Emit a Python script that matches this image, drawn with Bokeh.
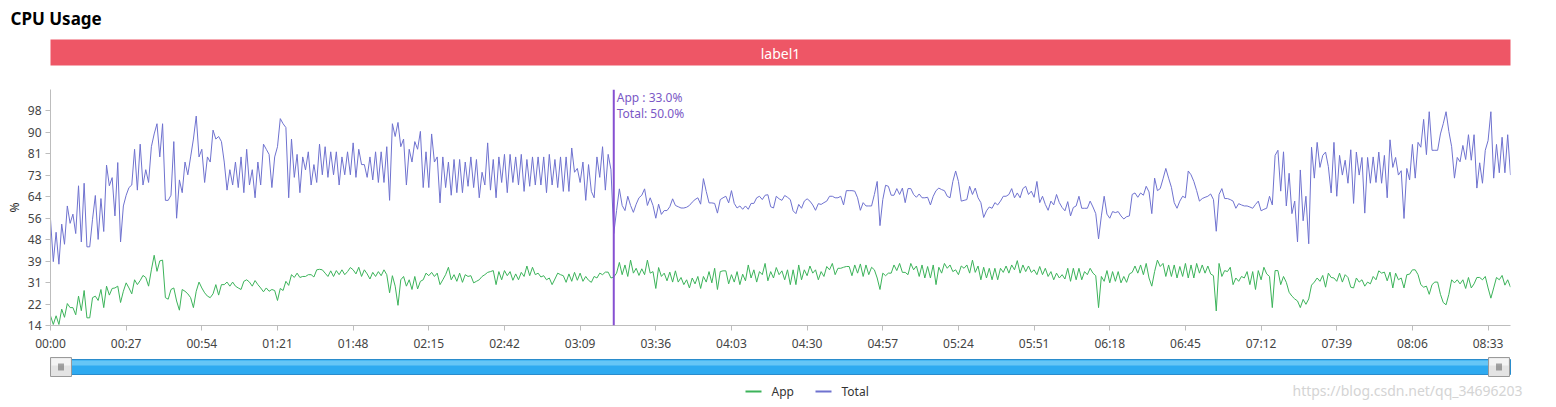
from bokeh.plotting import figure
from bokeh.models import Range1d, FixedTicker, Span, Label
from bokeh.embed import file_html
from bokeh.resources import INLINE
from bokeh.core.properties import value

# ---------------- data ----------------
chart_title = "CPU Usage"
banner_text = "label1"
series_names = ["App", "Total"]
unit_label = "%"
watermark = "https://blog.csdn.net/qq_34696203"

x_tick_seconds = [0, 27, 54, 81, 108, 135, 162, 189, 216, 243, 270, 297, 324,
                  351, 378, 405, 432, 459, 486, 513]
x_tick_labels = ["00:00", "00:27", "00:54", "01:21", "01:48", "02:15", "02:42",
                 "03:09", "03:36", "04:03", "04:30", "04:57", "05:24", "05:51",
                 "06:18", "06:45", "07:12", "07:39", "08:06", "08:33"]
y_tick_values = [14, 22.4, 30.8, 39.2, 47.6, 56, 64.4, 72.8, 81.2, 89.6, 98]
y_tick_labels = ["14", "22", "31", "39", "48", "56", "64", "73", "81", "90", "98"]
y_min, y_max = 14, 106.4
crosshair_second = 201

total_pct = [
    55.6, 39, 50.5, 38, 53.7, 45.8, 60.8, 54, 57.6, 50,
    68.7, 46.7, 69.7, 44.8, 44.8, 55.6, 64.9, 47.7, 63.7, 50.8,
    76.8, 68.7, 71.9, 56.9, 77.8, 46.7, 60.8,
    65, 68, 69, 83, 67, 85, 69, 75, 70, 84,
    89, 93, 80, 93, 63, 63, 65, 86, 56, 71,
    66, 78, 73, 80, 87, 96, 80, 83, 70, 80,
    78, 90.5, 87, 88, 86, 78, 67, 75, 69, 78,
    68, 80, 66, 83, 69, 75, 64, 78, 69, 85,
    83, 81, 68, 80, 84, 95, 93, 91.5, 64, 87,
    72, 81, 66,
    80, 74.9, 82, 69, 77, 70, 85, 73, 84, 72,
    82, 73, 82, 69, 80, 73, 82, 73, 85.5, 72,
    83, 77, 77, 72, 80, 71, 82, 70, 82, 70,
    84, 63, 93, 88, 93.5, 84, 87, 69, 83, 78,
    86, 83, 90, 68, 82, 68, 89, 78, 80, 62,
    80, 68, 78, 65, 79, 66, 79, 66, 78, 68.5,
    80, 68, 79, 64, 74, 69, 85.5, 67, 79, 64,
    80, 70, 81, 66, 81, 70, 80, 69, 81, 66.5,
    79, 68.5, 80, 69, 80, 69, 80, 66, 81, 69,
    79, 68, 80, 66.5, 80, 66.5, 83.5, 74, 75.5, 70,
    78, 63, 77, 66.5,
    64, 80, 72, 84, 67, 81, 75, 50,
    59, 67.5, 61, 59, 64.6, 61, 58.3, 61.5, 64, 65,
    67.5, 61, 64, 61, 56, 61.5, 57.5, 59, 59, 60.5,
    63.6, 61, 60.5, 60, 60, 60.3, 61, 62.3, 63.3, 64,
    61.5, 71.5, 66.5, 62, 62, 61.8, 58, 63.3, 64, 64.6,
    62, 66.8, 61.8, 60, 60.8, 59.5, 60.8, 59.5, 61.8, 61.8,
    64, 64.6, 63.3, 65, 65.2, 60.5, 60, 64.6, 63.6, 63,
    64.9, 64.2, 63.3, 58.9, 57.8, 61.4, 59.9, 62.7, 63.6, 62.7,
    61.2, 59.1, 61.7, 61.4, 62.1, 62.7, 64.6, 64.6, 64, 64,
    64.6, 61.2, 66.8, 66.8, 66.8, 66.6, 64, 59.1, 62.1, 60.8,
    60.8, 60.8, 65.3, 70.4, 53.1, 63.3, 68.9, 68.5, 65, 65,
    67.6, 65.3, 67.8, 62.1, 67.6, 67.6, 65.3, 64.2, 65.5, 64,
    64, 64.2, 61.2, 64.6, 66.8, 67.8, 67.2, 66.8, 64.6, 64,
    70.4, 74.5, 70.4, 62.7, 63, 63.3, 68.5, 65.3, 67.8, 64,
    62.1, 56.3, 58.9, 60.4, 59.9, 62.1, 61.2, 62.7, 64.6, 64.6,
    65.3, 67.6, 64, 65.9, 64, 67.6, 68.5, 65.3, 66.6, 64.2,
    70.4, 62.1,
    64.6, 61.4, 59.1, 62.7, 61.2, 65.3, 62.1, 60.2, 58.9, 62.5,
    56.9, 60.2, 60.8, 64.6, 59.9, 59.9, 59.9, 62.7, 60.4, 57.8,
    47.9, 56.9, 64.6, 57.6, 56, 58.6, 58.2, 58.6, 56.9, 55.7,
    56.6, 56.9, 65.3, 65.9, 64.2, 65.9, 65, 68.5, 66.3, 57.8,
    71.7, 66.8, 67.6, 71.4, 75.5, 71.7, 68.1, 62.1, 59.9, 62.7,
    64.6, 64, 74.5, 73, 70.4, 66.8, 62.7, 63.7, 64.2, 64.6,
    65.5, 63.3, 50.9, 65.3, 67.6, 63.7, 63.7, 63.3, 62.7, 59.9,
    61.7, 61.2, 60.8, 60.8, 60.4, 59.9, 61.4, 62.7, 58.9, 59.5,
    59.9, 64.6, 61.2, 80.6, 82.6, 66.6, 82, 60.8, 73.6, 57.8,
    62.7, 46.7, 74.9, 55, 64.6, 46,
    83.8, 71.7, 85.7, 75.9, 80.6, 81.9, 76.2, 65.9, 85.7, 64.6,
    80.6, 72.9, 78.7, 69.7, 82.8, 61.8, 81.9, 72.9, 79.8, 58,
    79.8, 69.7, 80, 70, 81.9, 69.7, 80.6, 64, 86.7, 75.9,
    79.8, 72.9, 74.6, 55.9, 75.5, 71, 84.9, 71.7, 85.7, 83.8,
    94.7, 80.9, 97.7, 82.6, 82.6, 82.6, 89, 93, 97.7, 90,
    84, 71.7, 79.8, 78.1, 84.5, 79, 88.7, 78.7, 88.7, 67.8,
    77.7, 69.7, 82.6, 86.4, 97.7, 71.7, 84.9, 73.8, 87.7, 73.8,
    88.7, 72.9,
]

app_pct = [
    17.8, 14.4, 17.8, 14.4, 20.4, 17.2, 22.6, 21, 21, 18.2,
    25.5, 19.8, 27.7, 17, 17, 24.9, 25.5, 23.8, 28.1, 21,
    29.4, 25.9, 28.5, 28.7, 29.4, 23, 27.4, 30.7, 28.7, 26.4,
    31.9, 30, 31.6, 33.6, 32.8, 29.4, 35.8, 41.5, 35.2, 39.3,
    39.6, 24.9, 24.3, 28.1, 28.7, 23.6, 20, 28.1, 27.4, 26.4,
    24.9, 21, 27.4, 31, 28.7, 26.8, 25.5, 24.9, 26.4, 30,
    25.9, 30, 30, 31, 29.4, 31, 29.4, 28.7, 28.1, 31.3,
    31.9, 31, 29.4, 31.6, 30, 28.7, 27.2, 28.7, 27.4, 28.1,
    27.7, 23.8, 28.5, 27.7, 31.3, 29.7, 33.9, 32.8, 34.5, 32.8,
    33.2, 33.2, 33.9, 33.9, 33, 35.8, 36, 35.8, 34.5, 33.2,
    35.4, 33.2, 35.5, 33.9, 35.8, 33.9, 35.1, 36.7, 35.8, 34.2,
    36.8, 33.2, 35.8, 34.2, 32.2, 34.8, 33.2, 35.1, 33.5, 35.8,
    33.9, 26.8, 33.5, 29.4, 21.9, 31.9, 33.2, 29.4, 31.9, 28.1,
    33.2, 28.3, 31.3, 31.9, 34.5, 33.5, 34.8, 33.2, 34.5, 30,
    31.9, 33.9, 36.8, 31.9, 33.9, 31.3, 34.5, 30.9, 33.9, 33.2,
    33.5, 30.7, 31.3, 31.9, 33.2, 33.9, 34.8, 35.1, 35.5, 30,
    35.1, 31.9, 35.5, 33.5, 35.1, 31.7, 34.2, 31.9, 34.8, 33.2,
    37.3, 33.5, 36.8, 33.9, 34.5, 33, 33.5, 31.9, 32.6, 30,
    32.2, 34.5, 33.9, 33.5, 30.9, 34.2, 31.3, 34.8, 31.7, 34.5,
    31.3, 33.2, 31.7, 30.9,
    33.2, 32.6, 34.5, 33.9, 34.9, 34.9, 32.6, 33.0,
    34.5, 38.7, 33.9, 37.7, 33.2, 39.6, 34.5, 36.4, 33.6, 36.2,
    33.9, 39.6, 34.5, 35.1, 28.5, 36.7, 33.2, 34.5, 31.5, 34.9,
    31, 35.4, 31, 32.8, 30, 31.9, 28.7, 32.6, 30.3, 33.2,
    28.5, 33.2, 31, 35.1, 30.7, 36.4, 28.1, 35.1, 35.4, 35.4,
    30.3, 33.9, 31, 35.1, 30, 34.1, 31.5, 37.7, 32.6, 35.8,
    31, 35.1, 33.9, 38.3, 31.5, 35.1, 32.6, 36.7, 33.9, 35.4,
    31.9, 35.8, 30, 35.8, 30, 37.7, 31.9, 35.8, 33.5, 37.3,
    34.5, 35.8, 31.9, 35.1, 33.2, 37.1, 35.8, 38.3, 33.9, 36.4,
    36.4, 36.8, 37.1, 37.1, 33.5, 37.7, 34.5, 38.1, 33.2, 37.7,
    33.9, 36.8, 35.8, 32.6, 28.1, 34.5, 33.5, 34.5, 34.5, 37.7,
    35.5, 38.3, 34.8, 34.8, 33.9, 38.3, 35.8, 37.3, 33.2, 37.7,
    32.6, 37.1, 32.6, 37.7, 30, 36.8, 34.5, 38.3, 36.4, 37.7,
    35.1, 35.8, 33.9, 37.3, 36.4, 37.7, 34.5, 39.6, 34.8, 37.3,
    31.9, 36.8, 32.6, 36.4, 31.9, 36.4, 31.9, 36.4, 34.8, 37.3,
    34.5, 37.7, 35.8, 39.4, 34.5, 37.7, 35.1, 37.3, 34.8, 35.8,
    33.9, 37.1,
    33.9, 36.4, 33.2, 35.1, 31.9, 34.5, 32.6, 33.9, 32.2, 36.4,
    31.3, 36.4, 31.9, 36.4, 31.9, 35.1, 33.9, 36.4, 34.5, 33.5,
    21, 33.2, 31.3, 35.5, 30.7, 35.1, 31.3, 35.1, 30.7, 33.2,
    30.9, 34.2, 34.8, 37.3, 34.5, 37.7, 33.9, 38.3, 32.6, 29.4,
    35.1, 39.6, 37.1, 38.3, 33.2, 37.7, 33.2, 37.7, 32.6, 37.1,
    33.2, 38.3, 32.6, 37.7, 32.6, 38.3, 34.5, 37.7, 34.5, 37.3,
    34.2, 33.5, 19.7, 38.3, 33.2, 35.5, 35.1, 36.8, 30, 32.6,
    31.3, 33.2, 32.6, 35.1, 30, 35.1, 28.1, 35.5, 31.9, 36.8,
    34.2, 33.2, 21, 35.5, 35.5, 30, 33.2, 30.9, 27, 25.5,
    24.4, 23.6, 21, 24.2, 22.3, 24.4,
    29.8, 31, 32.6, 31.3, 33.6, 29, 34.5, 32.8, 32.6, 31.3,
    34.5, 31, 33.9, 32.8, 29, 28.7, 32.6, 31, 31.9, 29.4,
    31, 30.3, 33.2, 31.9, 35.4, 34.5, 34.9, 31.5, 34.9, 28.7,
    34.5, 31.9, 32.6, 28.7, 33.9, 34.1, 35.8, 35.8, 33.9, 30,
    29, 29.4, 26.2, 30, 31, 31, 26.2, 23, 22.1, 26.2,
    31.9, 30.7, 31.9, 30.3, 31.9, 28.5, 32.8, 28.7, 30.3, 32.8,
    32.8, 31.9, 33.2, 28.7, 24.7, 28.7, 32.8, 31.9, 33.6, 29.8,
    31.9, 29,
]

# ---------------- style ----------------
FONT = "Noto Sans"
APP_C = "#3cb35a"
TOTAL_C = "#6f72cf"
CROSS_C = "#8650d2"
AXIS_C = "#bdbdbd"
W = 1556

# ---------------- header (page pixel coordinates) ----------------
head = figure(width=W, height=89, x_range=Range1d(0, W), y_range=Range1d(89, 0),
              x_axis_type=None, y_axis_type=None, output_backend="svg",
              toolbar_location=None, min_border=0)
head.outline_line_color = None
head.text(x=[10], y=[18], text=[chart_title], text_font=value(FONT),
          text_font_size="17px", text_font_style="bold", text_color="#000000",
          text_baseline="middle", text_align="left")
head.quad(left=[50], right=[1510], top=[39], bottom=[65],
          fill_color="#ee5666", line_color=None)
head.text(x=[780], y=[52.5], text=[banner_text], text_font=value(FONT),
          text_font_size="14px", text_color="#ffffff",
          text_baseline="middle", text_align="center")

# ---------------- main chart ----------------
n_last = max(len(app_pct), len(total_pct)) - 1
p = figure(width=W, height=265, x_range=Range1d(0, n_last), y_range=Range1d(y_min, y_max),
           output_backend="svg", toolbar_location=None,
           min_border_left=50, min_border_right=46, min_border_top=0, min_border_bottom=24)
p.outline_line_color = None
p.grid.visible = False

p.line(list(range(len(total_pct))), total_pct, line_color=TOTAL_C, line_width=1)
p.line(list(range(len(app_pct))), app_pct, line_color=APP_C, line_width=1)

for ax in (p.xaxis[0], p.yaxis[0]):
    ax.axis_line_color = AXIS_C
    ax.major_tick_line_color = AXIS_C
    ax.minor_tick_line_color = None
    ax.major_tick_out = 5
    ax.major_tick_in = 0
    ax.major_label_text_font = FONT
    ax.major_label_text_font_size = "12px"
    ax.major_label_text_color = "#444444"
    ax.major_label_standoff = 4

p.xaxis.ticker = FixedTicker(ticks=x_tick_seconds)
p.xaxis.major_label_overrides = {s: lab for s, lab in zip(x_tick_seconds, x_tick_labels)}

p.yaxis.ticker = FixedTicker(ticks=y_tick_values)
p.yaxis.major_label_overrides = {v: lab for v, lab in zip(y_tick_values, y_tick_labels)}
p.yaxis.axis_label = unit_label
p.yaxis.axis_label_text_font = FONT
p.yaxis.axis_label_text_font_size = "12px"
p.yaxis.axis_label_text_font_style = "normal"
p.yaxis.axis_label_text_color = "#222222"
p.yaxis.axis_label_standoff = 2

p.add_layout(Span(location=crosshair_second, dimension="height",
                  line_color=CROSS_C, line_width=2))
tip_lines = [
    "%s  : %.1f%%" % (series_names[0], app_pct[crosshair_second]),
    "%s: %.1f%%" % (series_names[1], total_pct[crosshair_second]),
]
for k, t in enumerate(tip_lines):
    p.add_layout(Label(x=crosshair_second, y=y_max - (8 + 16 * k) / 2.6, x_offset=3,
                       text=t, text_font=FONT, text_font_size="12px",
                       text_color="#7a58c6", text_align="left", text_baseline="middle"))

# ---------------- footer: zoom slider + legend (page pixel coordinates) ----------------
foot = figure(width=W, height=51, x_range=Range1d(0, W), y_range=Range1d(405, 354),
              x_axis_type=None, y_axis_type=None, output_backend="svg",
              toolbar_location=None, min_border=0)
foot.outline_line_color = None
foot.quad(left=[50], right=[1510], top=[359], bottom=[374],
          fill_color="#2eaaf0", line_color="#2a8ccc", line_width=1)
foot.quad(left=[51], right=[1509], top=[360], bottom=[365],
          fill_color="#66c6f6", line_color=None)
for hl in (50, 1488):
    foot.quad(left=[hl], right=[hl + 21], top=[357], bottom=[376],
              fill_color="#e4e4e4", line_color="#9a9a9a", line_width=1)
    foot.quad(left=[hl + 1], right=[hl + 20], top=[358], bottom=[365],
              fill_color="#f4f4f4", line_color=None)
    foot.segment(x0=[hl + 8.5, hl + 10.5, hl + 12.5], y0=[363, 363, 363],
                 x1=[hl + 8.5, hl + 10.5, hl + 12.5], y1=[370, 370, 370],
                 line_color="#555555", line_width=1)

leg_x = [745, 815]
leg_c = [APP_C, TOTAL_C]
for lx, lc, name in zip(leg_x, leg_c, series_names):
    foot.segment(x0=[lx], y0=[391], x1=[lx + 16], y1=[391], line_color=lc, line_width=2)
    foot.text(x=[lx + 26], y=[391], text=[name], text_font=value(FONT),
              text_font_size="12px", text_color="#333333",
              text_baseline="middle", text_align="left")

foot.text(x=[1292], y=[390], text=[watermark], text_font=value(FONT),
          text_font_size="14px", text_color="#d4d4d4",
          text_baseline="middle", text_align="left")

open("out.html", "w").write(file_html([head, p, foot], INLINE, chart_title))
